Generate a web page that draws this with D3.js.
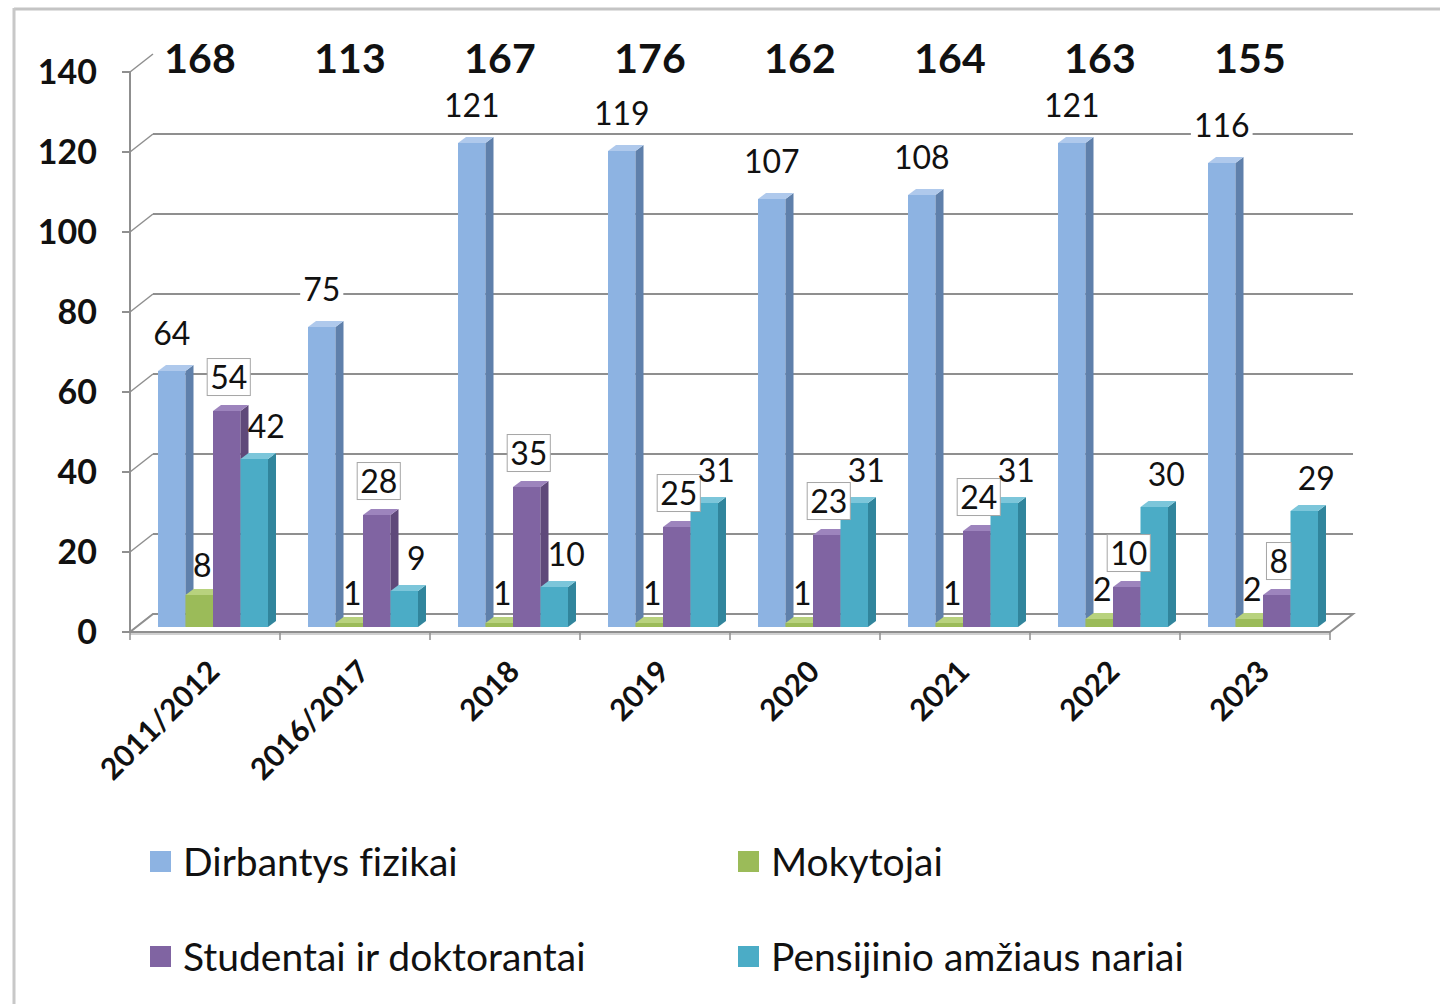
<!DOCTYPE html>
<html>
<head>
<meta charset="utf-8">
<title></title>
<script src="https://cdn.jsdelivr.net/npm/d3@7"></script>
<style>
  body { margin: 0; background: #fff; }
  text { font-family: Lato, "Open Sans", sans-serif; fill: #111; font-variant-ligatures: none; }
</style>
</head>
<body>
<div id="chart"></div>
<script>
var categories = ["2011/2012", "2016/2017", "2018", "2019", "2020", "2021", "2022", "2023"];
var totals = [168, 113, 167, 176, 162, 164, 163, 155];
var dirbantys = [64, 75, 121, 119, 107, 108, 121, 116];
var mokytojai = [8, 1, 1, 1, 1, 1, 2, 2];
var studentai = [54, 28, 35, 25, 23, 24, 10, 8];
var pensijinio = [42, 9, 10, 31, 31, 31, 30, 29];
var seriesNames = ["Dirbantys fizikai", "Mokytojai", "Studentai ir doktorantai", "Pensijinio amžiaus nariai"];
var yTicks = [0, 20, 40, 60, 80, 100, 120, 140];

var series = [dirbantys, mokytojai, studentai, pensijinio];
var front = ["#8db3e2", "#9bbb59", "#8064a2", "#4bacc6"];
var side = ["#5f80ab", "#76923c", "#5f497a", "#31859c"];
var topc = ["#afc9ec", "#b8d27e", "#9d84bd", "#7cc6da"];

// depth of the 3d box
var depthX = 23, depthY = -18;
// bars sit in the middle of the depth
var barX = 8, barY = -5;
var barDX = 8, barDY = -6;

function doD3() {
    var svg = d3.select("#chart").append("svg")
        .attr("width", 1440).attr("height", 1004);

    // frame
    svg.append("line").attr("x1", 14).attr("y1", 9).attr("x2", 1440).attr("y2", 9)
        .attr("stroke", "#c4c4c4").attr("stroke-width", 3);
    svg.append("line").attr("x1", 14).attr("y1", 8).attr("x2", 14).attr("y2", 1004)
        .attr("stroke", "#c8c8c8").attr("stroke-width", 3);

    var x = d3.scaleBand().domain(categories).range([130, 1330]);
    var y = d3.scaleLinear().domain([0, 140]).range([632, 72]);
    var inner = d3.scaleBand().domain(d3.range(4)).range([20, 130]);

    var grid = svg.append("g");
    // back wall grid lines
    grid.selectAll(".gl").data(yTicks.filter(function(d) { return d > 0 && d < 140; }))
      .enter().append("line")
        .attr("x1", 130 + depthX).attr("x2", 1330 + depthX)
        .attr("y1", function(d) { return y(d) + depthY; })
        .attr("y2", function(d) { return y(d) + depthY; })
        .attr("stroke", "#8f8f8f").attr("stroke-width", 2);
    // side wall diagonals
    grid.selectAll(".dg").data(yTicks).enter().append("line")
        .attr("x1", 130).attr("x2", 130 + depthX)
        .attr("y1", function(d) { return y(d); })
        .attr("y2", function(d) { return y(d) + depthY; })
        .attr("stroke", "#8f8f8f").attr("stroke-width", 1.5);
    // floor
    grid.append("path")
        .attr("d", "M130," + y(0) + "L1330," + y(0) + "L" + (1330 + depthX) + "," + (y(0) + depthY) +
              "L" + (130 + depthX) + "," + (y(0) + depthY) + "Z")
        .attr("fill", "#fff").attr("stroke", "#8f8f8f").attr("stroke-width", 2);
    grid.append("line").attr("x1", 130).attr("x2", 1330)
        .attr("y1", y(0) + 2).attr("y2", y(0) + 2).attr("stroke", "#d0d0d0").attr("stroke-width", 2);

    // y axis
    svg.append("line").attr("x1", 130).attr("x2", 130).attr("y1", y(140)).attr("y2", y(0))
        .attr("stroke", "#8f8f8f").attr("stroke-width", 2);
    svg.selectAll(".yt").data(yTicks).enter().append("line")
        .attr("x1", 122).attr("x2", 130)
        .attr("y1", function(d) { return y(d); }).attr("y2", function(d) { return y(d); })
        .attr("stroke", "#8f8f8f").attr("stroke-width", 2);
    svg.selectAll(".yl").data(yTicks).enter().append("text")
        .attr("x", 97).attr("y", function(d) { return y(d); })
        .attr("dy", "0.36em").attr("text-anchor", "end")
        .style("font-size", "34px").style("font-weight", "bold")
        .text(function(d) { return d; });

    // x ticks
    svg.selectAll(".xt").data(categories.concat(["end"])).enter().append("line")
        .attr("x1", function(d, i) { return 130 + i * x.step(); })
        .attr("x2", function(d, i) { return 130 + i * x.step(); })
        .attr("y1", y(0)).attr("y2", y(0) + 8)
        .attr("stroke", "#8f8f8f").attr("stroke-width", 1.5);
    svg.selectAll(".xl").data(categories).enter().append("text")
        .attr("transform", function(d) {
            return "translate(" + (x(d) + x.bandwidth() / 2 + 9) + "," + (y(0) + 34) + ") rotate(-45)";
        })
        .attr("text-anchor", "end").attr("dy", "0.35em")
        .style("font-size", "30px").style("font-weight", "bold")
        .text(function(d) { return d; });

    // bars
    var bars = [];
    series.forEach(function(vals, s) {
        vals.forEach(function(v, i) {
            bars.push({s: s, v: v, c: categories[i]});
        });
    });
    var bw = inner.bandwidth();
    var g = svg.append("g");
    var box = g.selectAll(".bar").data(bars).enter().append("g");
    box.append("rect")
        .attr("x", function(d) { return x(d.c) + inner(d.s) + barX; })
        .attr("y", function(d) { return y(d.v) + barY; })
        .attr("width", bw)
        .attr("height", function(d) { return y(0) - y(d.v); })
        .attr("fill", function(d) { return front[d.s]; });
    box.append("path")
        .attr("d", function(d) {
            var x0 = x(d.c) + inner(d.s) + barX + bw, y0 = y(d.v) + barY, y1 = y(0) + barY;
            return "M" + x0 + "," + y0 + "L" + (x0 + barDX) + "," + (y0 + barDY) +
                   "L" + (x0 + barDX) + "," + (y1 + barDY) + "L" + x0 + "," + y1 + "Z";
        })
        .attr("fill", function(d) { return side[d.s]; });
    box.append("path")
        .attr("d", function(d) {
            var x0 = x(d.c) + inner(d.s) + barX, y0 = y(d.v) + barY;
            return "M" + x0 + "," + y0 + "L" + (x0 + barDX) + "," + (y0 + barDY) +
                   "L" + (x0 + bw + barDX) + "," + (y0 + barDY) + "L" + (x0 + bw) + "," + y0 + "Z";
        })
        .attr("fill", function(d) { return topc[d.s]; });

    // value labels
    var offX = [0, 3, 2, 12], offY = [-38, -30, -34, -33];
    var lab = svg.append("g").selectAll(".lab").data(bars).enter().append("g")
        .attr("transform", function(d) {
            return "translate(" + (x(d.c) + inner(d.s) + barX + bw / 2 + offX[d.s]) + "," +
                   (y(d.v) + barY + offY[d.s]) + ")";
        });
    var bgRect = lab.append("rect");
    var labText = lab.append("text")
        .attr("text-anchor", "middle").attr("dy", "0.36em")
        .style("font-size", "32px")
        .text(function(d) { return d.v; });
    labText.each(function(d) {
        var b = this.getBBox();
        var r = d3.select(this.parentNode).select("rect");
        if (d.s === 0 || d.s === 2) {
            r.attr("x", b.x - 3).attr("y", b.y + 2).attr("width", b.width + 6).attr("height", b.height - 2)
             .attr("fill", "#fff")
             .attr("stroke", d.s === 2 ? "#a6a6a6" : "none").attr("stroke-width", 1);
        }
    });

    // totals above
    svg.selectAll(".tot").data(totals).enter().append("text")
        .attr("x", function(d, i) { return x(categories[i]) + x.bandwidth() / 2 - 5; })
        .attr("y", 58).attr("dy", "0.36em").attr("text-anchor", "middle")
        .style("font-size", "41px").style("font-weight", "bold")
        .text(function(d) { return d; });

    // legend
    var leg = svg.selectAll(".leg").data(seriesNames).enter().append("g")
        .attr("transform", function(d, i) {
            return "translate(" + (150 + (i % 2) * 588) + "," + (862 + Math.floor(i / 2) * 95) + ")";
        });
    leg.append("rect").attr("x", 0).attr("y", -11).attr("width", 21).attr("height", 21)
        .attr("fill", function(d, i) { return front[i]; });
    leg.append("text").attr("x", 33).attr("y", 0).attr("dy", "0.36em")
        .style("font-size", "39px")
        .text(function(d) { return d; });
}

doD3();
</script>
</body>
</html>
